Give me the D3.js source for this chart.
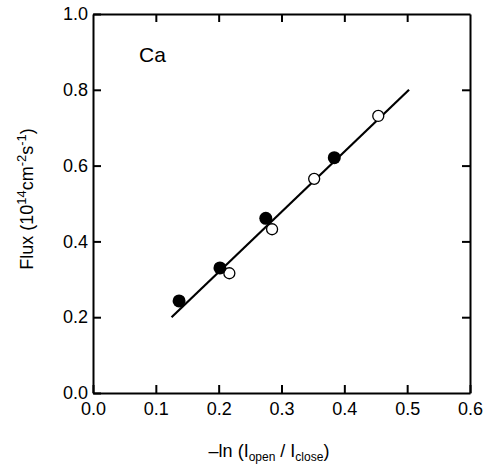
<!DOCTYPE html>
<html>
<head>
<meta charset="utf-8">
<script src="https://cdn.jsdelivr.net/npm/d3@7"></script>
<style>
  body { margin: 0; background: #fff; }
  text { font-family: "Liberation Sans", Arial, sans-serif; fill: #000; }
</style>
</head>
<body>
<div id="chart"></div>
<script>
    // data
    const filledX = [0.137, 0.202, 0.275, 0.384];
    const filledY = [0.243, 0.330, 0.461, 0.621];
    const openX = [0.217, 0.285, 0.352, 0.454];
    const openY = [0.316, 0.432, 0.565, 0.731];
    const fitX = [0.125, 0.503];
    const fitY = [0.200, 0.800];
    const xTicks = [0.0, 0.1, 0.2, 0.3, 0.4, 0.5, 0.6];
    const yTicks = [0.0, 0.2, 0.4, 0.6, 0.8, 1.0];

    const width = 490;
    const height = 466;
    const margin = { top: 14, right: 20, bottom: 73, left: 93 };
    const w = width - margin.left - margin.right;
    const h = height - margin.top - margin.bottom;

    const svg = d3.select("#chart")
        .append("svg")
        .attr("width", width)
        .attr("height", height);
    const g = svg.append("g")
        .attr("transform", `translate(${margin.left},${margin.top})`);

    const x = d3.scaleLinear().domain([0, 0.6]).range([0, w]);
    const y = d3.scaleLinear().domain([0, 1.0]).range([h, 0]);

    // axes with inward ticks
    const fmt = d3.format(".1f");
    const tickLen = 8;
    const axBottom = g.append("g").attr("transform", `translate(0,${h})`)
        .call(d3.axisBottom(x).tickValues(xTicks).tickFormat(fmt).tickSizeInner(-tickLen).tickSizeOuter(0).tickPadding(9));
    const axLeft = g.append("g")
        .call(d3.axisLeft(y).tickValues(yTicks).tickFormat(fmt).tickSizeInner(-tickLen).tickSizeOuter(0).tickPadding(5));
    const axTop = g.append("g")
        .call(d3.axisTop(x).tickValues(xTicks.slice(1, -1)).tickFormat("").tickSizeInner(-tickLen).tickSizeOuter(0));
    const axRight = g.append("g").attr("transform", `translate(${w},0)`)
        .call(d3.axisRight(y).tickValues(yTicks.slice(1, -1)).tickFormat("").tickSizeInner(-tickLen).tickSizeOuter(0));

    [axBottom, axLeft, axTop, axRight].forEach(a => {
        a.select(".domain").attr("stroke", "#000").attr("stroke-width", 2);
        a.selectAll(".tick line").attr("stroke", "#000").attr("stroke-width", 2);
        a.selectAll(".tick text").style("font-size", "18px").attr("fill", "#000");
    });

    // fit line
    const fit = fitX.map((v, i) => [v, fitY[i]]);
    g.append("path")
        .datum(fit)
        .attr("fill", "none")
        .attr("stroke", "#000")
        .attr("stroke-width", 2.2)
        .attr("d", d3.line().x(d => x(d[0])).y(d => y(d[1])));

    // open circles
    g.selectAll("circle.open")
        .data(openX.map((v, i) => [v, openY[i]]))
        .enter()
        .append("circle")
        .attr("class", "open")
        .attr("cx", d => x(d[0]))
        .attr("cy", d => y(d[1]))
        .attr("r", 5.5)
        .attr("fill", "#fff")
        .attr("stroke", "#000")
        .attr("stroke-width", 1.3);

    // filled circles
    g.selectAll("circle.filled")
        .data(filledX.map((v, i) => [v, filledY[i]]))
        .enter()
        .append("circle")
        .attr("class", "filled")
        .attr("cx", d => x(d[0]))
        .attr("cy", d => y(d[1]))
        .attr("r", 6.5)
        .attr("fill", "#000");

    // element label
    g.append("text")
        .attr("x", 46)
        .attr("y", 48)
        .style("font-size", "21px")
        .text("Ca");

    // y axis title
    const yl = svg.append("text")
        .attr("transform", `translate(33,${margin.top + 185}) rotate(-90)`)
        .attr("text-anchor", "middle")
        .style("font-size", "18px");
    yl.append("tspan").text("Flux (10");
    yl.append("tspan").attr("dy", -7).style("font-size", "13px").text("14");
    yl.append("tspan").attr("dy", 7).text("cm");
    yl.append("tspan").attr("dy", -7).style("font-size", "13px").text("-2");
    yl.append("tspan").attr("dy", 7).text("s");
    yl.append("tspan").attr("dy", -7).style("font-size", "13px").text("-1");
    yl.append("tspan").attr("dy", 7).text(")");

    // x axis title
    const xl = svg.append("text")
        .attr("x", 269)
        .attr("y", 457)
        .attr("text-anchor", "middle")
        .style("font-size", "18px");
    xl.append("tspan").text("\u2013ln (I");
    xl.append("tspan").attr("dy", 4).style("font-size", "12px").text("open");
    xl.append("tspan").attr("dy", -4).text(" / I");
    xl.append("tspan").attr("dy", 4).style("font-size", "12px").text("close");
    xl.append("tspan").attr("dy", -4).text(")");
</script>
</body>
</html>
